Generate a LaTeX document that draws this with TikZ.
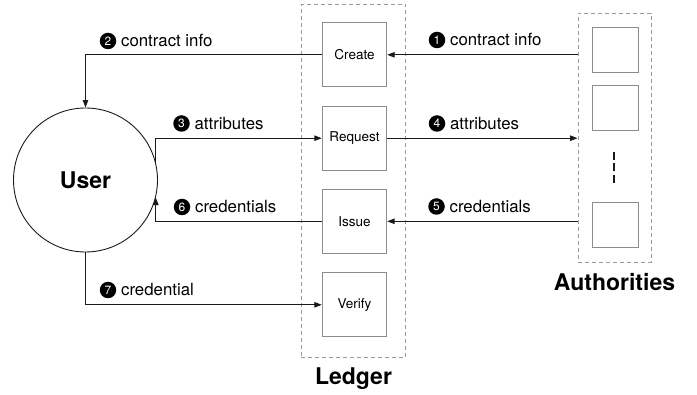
\documentclass[tikz,border=0pt]{standalone}
\usepackage{fontspec}
\setmainfont{TeX Gyre Heros}
\usetikzlibrary{arrows.meta}

\definecolor{linegray}{HTML}{1A1A1A}
\definecolor{boxgray}{HTML}{8C8C8C}
\definecolor{groupgray}{HTML}{9A9A9A}

\tikzset{
  flow/.style={draw=linegray, line width=1.1pt,
    -{Triangle[length=7.5pt,width=5.5pt]}},
  opbox/.style={draw=boxgray, line width=0.9pt, minimum width=64.5pt,
    minimum height=64pt, inner sep=0pt, font=\fontsize{13.5}{15}\selectfont},
  authbox/.style={draw=boxgray, line width=0.9pt, minimum width=46pt,
    minimum height=45pt, inner sep=0pt},
  group/.style={draw=groupgray, line width=0.9pt, dash pattern=on 4pt off 3pt,
    inner sep=0pt},
  badge/.style={circle, fill=black, text=white, inner sep=0pt,
    minimum size=16.5pt, font=\fontsize{12}{12}\selectfont},
  lbl/.style={anchor=west, inner sep=0pt, text height=12pt, text depth=0pt,
    font=\fontsize{16.8}{18}\selectfont},
  title/.style={font=\bfseries\fontsize{23}{25}\selectfont, inner sep=0pt},
}

\begin{document}
\begin{tikzpicture}[x=1pt, y=-1pt]
  \useasboundingbox (0,0) rectangle (697,395);

  % groups
  \node[group, minimum width=104.5pt, minimum height=353.5pt] (ledger) at (353.3,180.8) {};
  \node[group, minimum width=73pt, minimum height=249pt] (auth) at (614.5,137.5) {};

  % ledger operations
  \node[opbox] (create)  at (354.5,54.8)  {Create};
  \node[opbox] (request) at (354.5,138.2) {Request};
  \node[opbox] (issue)   at (354.5,221.3) {Issue};
  \node[opbox] (verify)  at (354.5,304.8) {Verify};

  % authorities
  \node[authbox] (a1) at (615,49.5)  {};
  \node[authbox] (a2) at (615,107.5) {};
  \node[authbox] (a3) at (615,225)   {};
  \coordinate (dtop) at (614,152);
  \coordinate (dbot) at (614,183);
  \draw[linegray, line width=1.1pt, dash pattern=on 8pt off 3.5pt] (dtop) -- (dbot);

  % user
  \node[circle, draw=linegray, line width=0.9pt, minimum size=144pt, inner sep=0pt,
        font=\bfseries\fontsize{23}{25}\selectfont] (user) at (85.5,180) {User};

  % titles
  \node[title] (ledgerlbl) at (353.5,379) {Ledger};
  \node[title] (authlbl)   at (614.5,282) {Authorities};

  % flows
  \draw[flow] (auth.west |- create) -- (create.east);
  \draw[flow] (create.west) -| (user.north);
  \draw[flow] (user.14) |- (request.west);
  \draw[flow] (request.east) -- (auth.west |- request);
  \draw[flow] (auth.west |- issue) -- (issue.east);
  \draw[flow] (issue.west) -| (user.-14);
  \draw[flow] (user.south) |- (verify.west);

  % step labels
  \node[badge] (b1) at (437,40) {1};
  \node[lbl] (l1) at ([xshift=4.5pt]b1.east) {contract info};
  \node[badge] (b2) at (108,41) {2};
  \node[lbl] (l2) at ([xshift=4.5pt]b2.east) {contract info};
  \node[badge] (b3) at (181.5,123.5) {3};
  \node[lbl] (l3) at ([xshift=4.5pt]b3.east) {attributes};
  \node[badge] (b4) at (437,123.5) {4};
  \node[lbl] (l4) at ([xshift=4.5pt]b4.east) {attributes};
  \node[badge] (b5) at (436.5,206.5) {5};
  \node[lbl] (l5) at ([xshift=4.5pt]b5.east) {credentials};
  \node[badge] (b6) at (182,207) {6};
  \node[lbl] (l6) at ([xshift=4.5pt]b6.east) {credentials};
  \node[badge] (b7) at (108,290) {7};
  \node[lbl] (l7) at ([xshift=4.5pt]b7.east) {credential};
\end{tikzpicture}
\end{document}
